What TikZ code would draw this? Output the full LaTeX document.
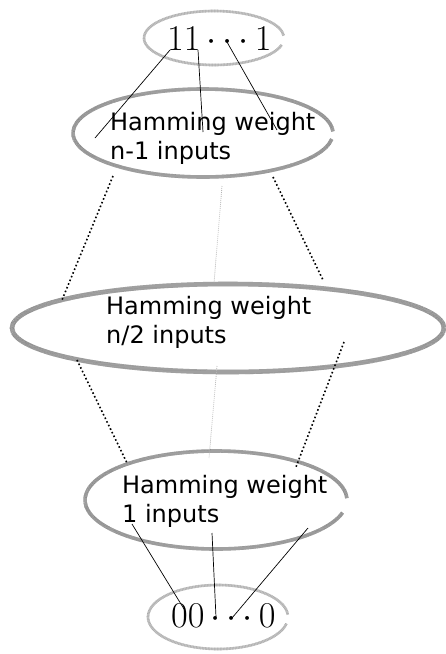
\documentclass[tikz,border=0pt]{standalone}
\usepackage{fontspec}
\setsansfont{DejaVu Sans}
\begin{document}
\begin{tikzpicture}[x=1pt,y=-1pt,
  ringhatch/.style={draw=gray!45,line width=#1,
     postaction={draw=gray!90,line width=#1,dash pattern=on 0.5pt off 0.5pt}},
  endring/.style={draw=gray!45,line width=2.6pt,
     postaction={draw=gray!65,line width=2.6pt,dash pattern=on 0.5pt off 1pt}},
  lbl/.style={font=\sffamily\fontsize{24}{28.5}\selectfont,align=left,anchor=base west,inner sep=0pt},
  bits/.style={font=\fontsize{20}{24}\selectfont,inner sep=0pt,anchor=base west},
  link/.style={draw=black,line width=0.7pt},
  hop/.style={draw=black,line width=1.6pt,dash pattern=on 1.6pt off 2.4pt},
  thinhop/.style={draw=gray!60,line width=0.8pt,dash pattern=on 0.8pt off 1.2pt}]
\useasboundingbox (0,0) rectangle (446,654);

% ellipses (each left open near its right end)
\draw[endring]   (214,38)  ++(15:70 and 27)   arc (15:355:70 and 27);
\draw[ringhatch=3.6pt] (203,133) ++(8:130 and 44) arc (8:358:130 and 44);
\draw[ringhatch=4.6pt] (228,328) ++(0:216 and 44) arc (0:360:216 and 44);
\draw[ringhatch=3.6pt] (216,500) ++(15:131 and 49) arc (15:358:131 and 49);
\draw[endring]   (218,617) ++(12:70 and 32)   arc (12:356:70 and 32);

% texts (base anchors sit on the last line)
\node[bits] (top) at (167,50) {\scalebox{1.75}{$11\cdots1$}};
\node[lbl] (wn1) at (110,159) {Hamming weight\\n-1 inputs};
\node[lbl] (wn2) at (106,343) {Hamming weight\\n/2 inputs};
\node[lbl] (w1)  at (122,522) {Hamming weight\\1 inputs};
\node[bits] (bot) at (171,627) {\scalebox{1.75}{$00\cdots0$}};

% link end points
\coordinate (t1) at (170,50);  \coordinate (u1) at (95,138);
\coordinate (t2) at (198,50);  \coordinate (u2) at (203,132);
\coordinate (t3) at (227,42);  \coordinate (u3) at (277,130);

\coordinate (b1) at (132,524); \coordinate (v1) at (184,609);
\coordinate (b2) at (212,533); \coordinate (v2) at (216,617);
\coordinate (b3) at (308,528); \coordinate (v3) at (232,618);

\coordinate (p1) at (113,176); \coordinate (q1) at (62,300);
\coordinate (p2) at (222,186); \coordinate (q2) at (214,283);
\coordinate (p3) at (273,177); \coordinate (q3) at (323,280);

\coordinate (r1) at (77,360);  \coordinate (s1) at (127,463);
\coordinate (r2) at (217,366); \coordinate (s2) at (209,458);
\coordinate (r3) at (344,342); \coordinate (s3) at (296,467);

% solid links to the extreme weights
\draw[link] (t1) -- (u1);
\draw[link] (t2) -- (u2);
\draw[link] (t3) -- (u3);
\draw[link] (b1) -- (v1);
\draw[link] (b2) -- (v2);
\draw[link] (b3) -- (v3);

% dotted links between intermediate weights
\draw[hop] (p1) -- (q1);
\draw[thinhop] (p2) -- (q2);
\draw[hop] (p3) -- (q3);
\draw[hop] (r1) -- (s1);
\draw[thinhop] (r2) -- (s2);
\draw[hop] (r3) -- (s3);
\end{tikzpicture}
\end{document}
